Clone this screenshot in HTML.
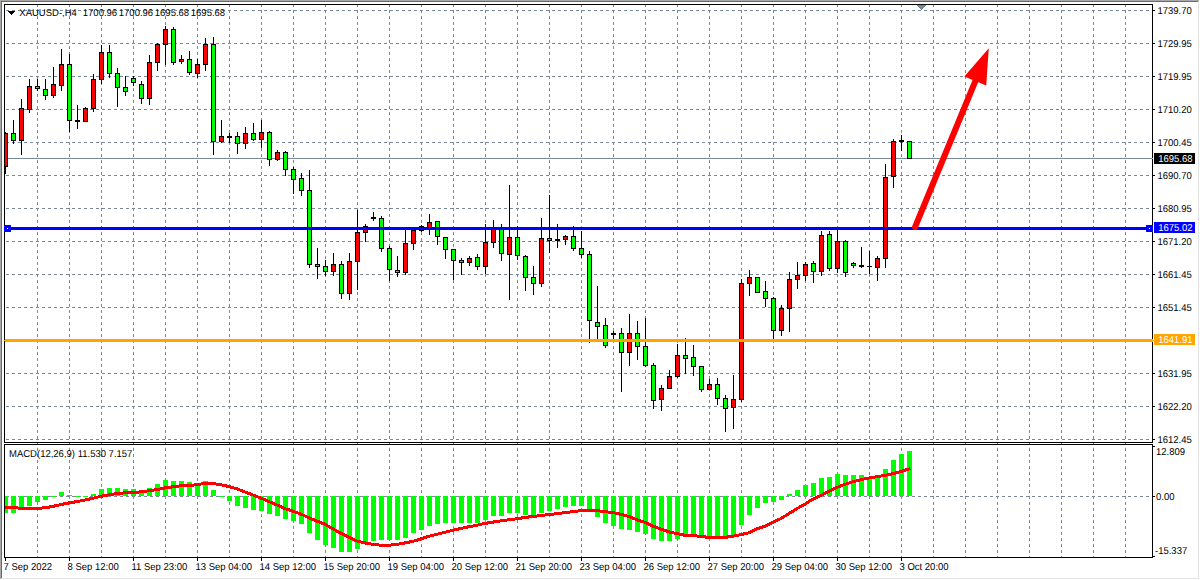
<!DOCTYPE html>
<html><head><meta charset="utf-8"><style>
html,body{margin:0;padding:0;background:#fff;width:1200px;height:580px;overflow:hidden}
svg{display:block}
text{white-space:pre;text-rendering:geometricPrecision}
</style></head><body>
<svg width="1200" height="580" viewBox="0 0 1200 580" shape-rendering="crispEdges">
<rect x="0" y="0" width="1199" height="1" fill="#a8a8a8"/>
<rect x="0" y="0" width="1" height="579" fill="#a8a8a8"/>
<rect x="1" y="1" width="1197" height="1" fill="#6b6b6b"/>
<rect x="1" y="1" width="1" height="577" fill="#6b6b6b"/>
<rect x="1198" y="1" width="1" height="578" fill="#e3e3e3"/>
<rect x="1" y="578" width="1197" height="1" fill="#e3e3e3"/>
<path d="M917 5h9v1h-9zM918 6h7v1h-7zM919 7h5v1h-5zM920 8h3v1h-3zM921 9h1v1h-1z" fill="#778899"/>
<path d="M6 10.5H1152 M6 43.5H1152 M6 76.5H1152 M6 109.5H1152 M6 142.5H1152 M6 175.5H1152 M6 208.5H1152 M6 241.5H1152 M6 274.5H1152 M6 307.5H1152 M6 340.5H1152 M6 373.5H1152 M6 406.5H1152 M6 439.5H1152 M6 496.5H1152" stroke="#778899" stroke-width="1" stroke-dasharray="3 3" fill="none"/>
<path d="M37.5 4V442 M37.5 448V557 M69.5 4V442 M69.5 448V557 M101.5 4V442 M101.5 448V557 M133.5 4V442 M133.5 448V557 M165.5 4V442 M165.5 448V557 M197.5 4V442 M197.5 448V557 M229.5 4V442 M229.5 448V557 M261.5 4V442 M261.5 448V557 M293.5 4V442 M293.5 448V557 M325.5 4V442 M325.5 448V557 M357.5 4V442 M357.5 448V557 M389.5 4V442 M389.5 448V557 M421.5 4V442 M421.5 448V557 M453.5 4V442 M453.5 448V557 M485.5 4V442 M485.5 448V557 M517.5 4V442 M517.5 448V557 M549.5 4V442 M549.5 448V557 M581.5 4V442 M581.5 448V557 M613.5 4V442 M613.5 448V557 M645.5 4V442 M645.5 448V557 M677.5 4V442 M677.5 448V557 M709.5 4V442 M709.5 448V557 M741.5 4V442 M741.5 448V557 M773.5 4V442 M773.5 448V557 M805.5 4V442 M805.5 448V557 M837.5 4V442 M837.5 448V557 M869.5 4V442 M869.5 448V557 M901.5 4V442 M901.5 448V557 M933.5 4V442 M933.5 448V557 M965.5 4V442 M965.5 448V557 M997.5 4V442 M997.5 448V557 M1029.5 4V442 M1029.5 448V557 M1061.5 4V442 M1061.5 448V557 M1093.5 4V442 M1093.5 448V557 M1125.5 4V442 M1125.5 448V557" stroke="#778899" stroke-width="1" stroke-dasharray="3 3" fill="none"/>
<path d="M37 443h1v1h-1zM69 443h1v1h-1zM101 443h1v1h-1zM133 443h1v1h-1zM165 443h1v1h-1zM197 443h1v1h-1zM229 443h1v1h-1zM261 443h1v1h-1zM293 443h1v1h-1zM325 443h1v1h-1zM357 443h1v1h-1zM389 443h1v1h-1zM421 443h1v1h-1zM453 443h1v1h-1zM485 443h1v1h-1zM517 443h1v1h-1zM549 443h1v1h-1zM581 443h1v1h-1zM613 443h1v1h-1zM645 443h1v1h-1zM677 443h1v1h-1zM709 443h1v1h-1zM741 443h1v1h-1zM773 443h1v1h-1zM805 443h1v1h-1zM837 443h1v1h-1zM869 443h1v1h-1zM901 443h1v1h-1zM933 443h1v1h-1zM965 443h1v1h-1zM997 443h1v1h-1zM1029 443h1v1h-1zM1061 443h1v1h-1zM1093 443h1v1h-1zM1125 443h1v1h-1z" fill="#778899"/>
<rect x="5" y="158" width="1147" height="1" fill="#778899"/>
<defs><clipPath id="cm"><rect x="5" y="5" width="1147" height="437"/></clipPath><clipPath id="cd"><rect x="5" y="445" width="1147" height="112"/></clipPath></defs>
<g clip-path="url(#cm)">
<path d="M5.5 132V174 M13.5 120V144 M21.5 99V155 M29.5 79V113 M37.5 79V91 M45.5 79V100 M53.5 67V98 M61.5 49V91 M69.5 54V132 M77.5 105V129 M85.5 107V122 M93.5 74V112 M101.5 45V84 M109.5 45V78 M117.5 68V107 M125.5 76V96 M133.5 76V86 M141.5 81V104 M149.5 55V105 M157.5 43V71 M165.5 26V65 M173.5 27V65 M181.5 55V64 M189.5 51V75 M197.5 59V78 M205.5 38V71 M213.5 37V155 M221.5 120V143 M229.5 133V143 M237.5 132V154 M245.5 127V149 M253.5 123V141 M261.5 120V148 M269.5 131V166 M277.5 150V161 M285.5 151V176 M293.5 167V194 M301.5 173V196 M309.5 170V268 M317.5 248V279 M325.5 260V276 M333.5 253V276 M341.5 261V299 M349.5 253V300 M357.5 210V290 M365.5 224V242 M373.5 212V221 M381.5 216V252 M389.5 246V281 M397.5 256V277 M405.5 228V275 M413.5 227V250 M421.5 225V232 M429.5 214V235 M437.5 221V245 M445.5 237V259 M453.5 249V280 M461.5 258V275 M469.5 256V266 M477.5 254V270 M485.5 224V274 M493.5 220V248 M501.5 224V261 M509.5 185V300 M517.5 226V260 M525.5 255V291 M533.5 266V295 M541.5 218V287 M549.5 195V253 M557.5 224V248 M565.5 235V245 M573.5 226V251 M581.5 231V258 M589.5 251V343 M597.5 286V340 M605.5 318V348 M613.5 331V339 M621.5 328V392 M629.5 314V366 M637.5 321V360 M645.5 318V367 M653.5 363V409 M661.5 385V411 M669.5 370V389 M677.5 344V378 M685.5 338V374 M693.5 345V376 M701.5 366V392 M709.5 379V390 M717.5 378V405 M725.5 395V432 M733.5 375V429 M741.5 279V402 M749.5 270V296 M757.5 277V293 M765.5 281V307 M773.5 297V339 M781.5 305V336 M789.5 272V332 M797.5 262V289 M805.5 262V281 M813.5 261V283 M821.5 231V276 M829.5 231V271 M837.5 230V273 M845.5 240V277 M853.5 262V268 M861.5 247V268 M869.5 251V274 M877.5 256V281 M885.5 164V268 M893.5 139V188 M901.5 135V151 M909.5 141V159" stroke="#000" stroke-width="1" fill="none"/>
<path d="M3 133h5v34h-5z M11 133h5v8h-5z M19 108h5v33h-5z M27 86h5v24h-5z M35 86h5v3h-5z M43 89h5v7h-5z M51 84h5v12h-5z M59 64h5v22h-5z M67 64h5v57h-5z M75 120h5v2h-5z M83 108h5v14h-5z M91 79h5v30h-5z M99 52h5v28h-5z M107 52h5v22h-5z M115 73h5v15h-5z M123 87h5v5h-5z M131 78h5v5h-5z M139 84h5v15h-5z M147 62h5v37h-5z M155 44h5v19h-5z M163 29h5v16h-5z M171 29h5v34h-5z M179 59h5v3h-5z M187 59h5v14h-5z M195 64h5v10h-5z M203 44h5v21h-5z M211 44h5v98h-5z M219 136h5v6h-5z M227 136h5v2h-5z M235 136h5v8h-5z M243 133h5v11h-5z M251 133h5v7h-5z M259 132h5v8h-5z M267 132h5v28h-5z M275 152h5v8h-5z M283 152h5v18h-5z M291 169h5v11h-5z M299 178h5v13h-5z M307 190h5v75h-5z M315 264h5v3h-5z M323 266h5v6h-5z M331 264h5v8h-5z M339 264h5v30h-5z M347 261h5v33h-5z M355 232h5v30h-5z M363 226h5v7h-5z M371 217h5v2h-5z M379 218h5v31h-5z M387 248h5v22h-5z M395 270h5v3h-5z M403 243h5v30h-5z M411 230h5v14h-5z M419 226h5v5h-5z M427 222h5v6h-5z M435 221h5v16h-5z M443 237h5v13h-5z M451 249h5v12h-5z M459 260h5v3h-5z M467 258h5v5h-5z M475 257h5v10h-5z M483 242h5v25h-5z M491 228h5v15h-5z M499 228h5v26h-5z M507 237h5v18h-5z M515 237h5v19h-5z M523 256h5v22h-5z M531 277h5v7h-5z M539 238h5v46h-5z M547 238h5v3h-5z M555 239h5v2h-5z M563 236h5v4h-5z M571 236h5v13h-5z M579 248h5v7h-5z M587 254h5v67h-5z M595 322h5v5h-5z M603 325h5v21h-5z M611 333h5v2h-5z M619 333h5v20h-5z M627 333h5v20h-5z M635 333h5v14h-5z M643 346h5v20h-5z M651 365h5v36h-5z M659 388h5v12h-5z M667 376h5v13h-5z M675 355h5v22h-5z M683 355h5v4h-5z M691 357h5v10h-5z M699 366h5v24h-5z M707 384h5v6h-5z M715 384h5v15h-5z M723 398h5v11h-5z M731 399h5v9h-5z M739 283h5v117h-5z M747 277h5v7h-5z M755 277h5v16h-5z M763 291h5v8h-5z M771 298h5v33h-5z M779 308h5v23h-5z M787 279h5v30h-5z M795 275h5v5h-5z M803 264h5v12h-5z M811 263h5v9h-5z M819 235h5v37h-5z M827 234h5v35h-5z M835 241h5v28h-5z M843 241h5v32h-5z M851 263h5v3h-5z M859 265h5v2h-5z M867 266h5v1h-5z M875 258h5v10h-5z M883 177h5v82h-5z M891 141h5v36h-5z M899 140h5v2h-5z M907 141h5v18h-5z" fill="#000"/>
<path d="M4 134h3v32h-3z M20 109h3v31h-3z M28 87h3v22h-3z M52 85h3v10h-3z M60 65h3v20h-3z M84 109h3v12h-3z M92 80h3v28h-3z M100 53h3v26h-3z M148 63h3v35h-3z M156 45h3v17h-3z M164 30h3v14h-3z M180 60h3v1h-3z M196 65h3v8h-3z M204 45h3v19h-3z M220 137h3v4h-3z M244 134h3v9h-3z M260 133h3v6h-3z M276 153h3v6h-3z M332 265h3v6h-3z M348 262h3v31h-3z M356 233h3v28h-3z M364 227h3v5h-3z M404 244h3v28h-3z M412 231h3v12h-3z M420 227h3v3h-3z M428 223h3v4h-3z M468 259h3v3h-3z M484 243h3v23h-3z M492 229h3v13h-3z M508 238h3v16h-3z M540 239h3v44h-3z M564 237h3v2h-3z M628 334h3v18h-3z M660 389h3v10h-3z M668 377h3v11h-3z M676 356h3v20h-3z M708 385h3v4h-3z M732 400h3v7h-3z M740 284h3v115h-3z M748 278h3v5h-3z M780 309h3v21h-3z M788 280h3v28h-3z M796 276h3v3h-3z M804 265h3v10h-3z M820 236h3v35h-3z M836 242h3v26h-3z M876 259h3v8h-3z M884 178h3v80h-3z M892 142h3v34h-3z" fill="#f00"/>
<path d="M12 134h3v6h-3z M36 87h3v1h-3z M44 90h3v5h-3z M68 65h3v55h-3z M108 53h3v20h-3z M116 74h3v13h-3z M124 88h3v3h-3z M132 79h3v3h-3z M140 85h3v13h-3z M172 30h3v32h-3z M188 60h3v12h-3z M212 45h3v96h-3z M236 137h3v6h-3z M252 134h3v5h-3z M268 133h3v26h-3z M284 153h3v16h-3z M292 170h3v9h-3z M300 179h3v11h-3z M308 191h3v73h-3z M316 265h3v1h-3z M324 267h3v4h-3z M340 265h3v28h-3z M380 219h3v29h-3z M388 249h3v20h-3z M396 271h3v1h-3z M436 222h3v14h-3z M444 238h3v11h-3z M452 250h3v10h-3z M460 261h3v1h-3z M476 258h3v8h-3z M500 229h3v24h-3z M516 238h3v17h-3z M524 257h3v20h-3z M532 278h3v5h-3z M548 239h3v1h-3z M572 237h3v11h-3z M580 249h3v5h-3z M588 255h3v65h-3z M596 323h3v3h-3z M604 326h3v19h-3z M620 334h3v18h-3z M636 334h3v12h-3z M644 347h3v18h-3z M652 366h3v34h-3z M684 356h3v2h-3z M692 358h3v8h-3z M700 367h3v22h-3z M716 385h3v13h-3z M724 399h3v9h-3z M756 278h3v14h-3z M764 292h3v6h-3z M772 299h3v31h-3z M812 264h3v7h-3z M828 235h3v33h-3z M844 242h3v30h-3z M852 264h3v1h-3z M908 142h3v16h-3z" fill="#0f0"/>
</g>
<g clip-path="url(#cd)">
<path d="M3 496h5v17h-5z M11 496h5v17h-5z M19 496h5v11h-5z M27 496h5v10h-5z M35 496h5v6h-5z M43 496h5v4h-5z M51 496h5v1h-5z M59 492h5v4h-5z M67 495h5v1h-5z M75 496h5v1h-5z M83 496h5v1h-5z M91 494h5v2h-5z M99 489h5v7h-5z M107 488h5v8h-5z M115 488h5v8h-5z M123 489h5v7h-5z M131 489h5v7h-5z M139 492h5v4h-5z M147 488h5v8h-5z M155 484h5v12h-5z M163 480h5v16h-5z M171 481h5v15h-5z M179 481h5v15h-5z M187 482h5v14h-5z M195 484h5v12h-5z M203 481h5v15h-5z M211 490h5v6h-5z M219 496h5v1h-5z M227 496h5v5h-5z M235 496h5v10h-5z M243 496h5v12h-5z M251 496h5v14h-5z M259 496h5v15h-5z M267 496h5v18h-5z M275 496h5v20h-5z M283 496h5v23h-5z M291 496h5v25h-5z M299 496h5v28h-5z M307 496h5v37h-5z M315 496h5v44h-5z M323 496h5v49h-5z M331 496h5v52h-5z M339 496h5v56h-5z M347 496h5v56h-5z M355 496h5v53h-5z M363 496h5v48h-5z M371 496h5v45h-5z M379 496h5v44h-5z M387 496h5v44h-5z M395 496h5v44h-5z M403 496h5v42h-5z M411 496h5v37h-5z M419 496h5v34h-5z M427 496h5v30h-5z M435 496h5v28h-5z M443 496h5v27h-5z M451 496h5v27h-5z M459 496h5v27h-5z M467 496h5v27h-5z M475 496h5v27h-5z M483 496h5v24h-5z M491 496h5v20h-5z M499 496h5v20h-5z M507 496h5v17h-5z M515 496h5v17h-5z M523 496h5v19h-5z M531 496h5v19h-5z M539 496h5v17h-5z M547 496h5v15h-5z M555 496h5v13h-5z M563 496h5v11h-5z M571 496h5v10h-5z M579 496h5v10h-5z M587 496h5v14h-5z M595 496h5v21h-5z M603 496h5v27h-5z M611 496h5v30h-5z M619 496h5v33h-5z M627 496h5v34h-5z M635 496h5v36h-5z M643 496h5v38h-5z M651 496h5v43h-5z M659 496h5v45h-5z M667 496h5v45h-5z M675 496h5v43h-5z M683 496h5v39h-5z M691 496h5v39h-5z M699 496h5v40h-5z M707 496h5v40h-5z M715 496h5v40h-5z M723 496h5v40h-5z M731 496h5v39h-5z M739 496h5v29h-5z M747 496h5v19h-5z M755 496h5v12h-5z M763 496h5v7h-5z M771 496h5v6h-5z M779 496h5v4h-5z M787 494h5v2h-5z M795 490h5v6h-5z M803 485h5v11h-5z M811 483h5v13h-5z M819 478h5v18h-5z M827 477h5v19h-5z M835 474h5v22h-5z M843 475h5v21h-5z M851 475h5v21h-5z M859 475h5v21h-5z M867 477h5v19h-5z M875 478h5v18h-5z M883 469h5v27h-5z M891 460h5v36h-5z M899 454h5v42h-5z M907 451h5v45h-5z" fill="#0f0"/>
<polyline points="5,507.4 13,507.4 21,508.4 29,508.4 37,508.4 45,507.8 53,506.4 61,504.5 69,502.9 77,501.6 85,500.0 93,498.2 101,496.3 109,494.8 117,493.6 125,492.8 133,492.6 141,491.8 149,490.7 157,489.6 165,487.9 173,486.8 181,485.8 189,485.7 197,484.6 205,483.5 213,483.5 221,484.7 229,486.6 237,488.9 245,492.0 253,495.0 261,498.1 269,501.6 277,505.0 285,508.6 293,511.2 301,514.1 309,517.9 317,521.1 325,524.3 333,528.8 341,533.4 349,537.4 357,541.0 365,542.9 373,544.3 381,545.2 389,545.2 397,544.3 405,542.9 413,541.3 421,538.9 429,536.2 437,534.2 445,532.3 453,530.3 461,528.4 469,526.7 477,525.2 485,523.4 493,522.1 501,520.9 509,519.7 517,518.8 525,517.4 533,516.5 541,515.5 549,514.6 557,513.6 565,512.6 573,511.6 581,510.7 589,510.7 597,510.7 605,511.6 613,512.6 621,514.3 629,516.5 637,519.8 645,522.4 653,526.1 661,529.1 669,531.9 677,533.6 685,535.3 693,535.6 701,536.5 709,537.4 717,537.4 725,537.4 733,536.2 741,534.6 749,532.7 757,528.9 765,526.1 773,522.3 781,518.5 789,513.6 797,508.6 805,504.1 813,499.1 821,495.6 829,491.1 837,487.3 845,484.3 853,481.7 861,479.7 869,478.0 877,476.7 885,475.4 893,473.7 901,471.4 909,469.0" fill="none" stroke="#f00" stroke-width="3" stroke-linejoin="round" stroke-linecap="square"/>
</g>
<rect x="5" y="227" width="1147" height="3" fill="#00f"/>
<rect x="5" y="339" width="1147" height="3" fill="#ffa500"/>
<g shape-rendering="geometricPrecision"><line x1="915.1" y1="227" x2="975.4" y2="81" stroke="#f00" stroke-width="6" stroke-linecap="round"/>
<polygon points="988.8,48.3 964.3,76.4 986.2,85.5" fill="#f00"/></g>
<rect x="4.5" y="4.5" width="1148" height="438" fill="none" stroke="#000" stroke-width="1"/>
<rect x="4.5" y="444.5" width="1148" height="113" fill="none" stroke="#000" stroke-width="1"/>
<path d="M4 225h7v7h-7zM1146 225h7v7h-7z" fill="#00f"/>
<path d="M7 228h1v1h-1zM1149 228h1v1h-1z" fill="#fff"/>
<path d="M1153 10.5h2 M1153 43.5h2 M1153 76.5h2 M1153 109.5h2 M1153 142.5h2 M1153 175.5h2 M1153 208.5h2 M1153 241.5h2 M1153 274.5h2 M1153 307.5h2 M1153 373.5h2 M1153 406.5h2 M1153 439.5h2 M1153 446.5h2 M1153 496.5h2 M1153 556.5h2 M5.5 558v3 M69.5 558v3 M133.5 558v3 M197.5 558v3 M261.5 558v3 M325.5 558v3 M389.5 558v3 M453.5 558v3 M517.5 558v3 M581.5 558v3 M645.5 558v3 M709.5 558v3 M773.5 558v3 M837.5 558v3 M901.5 558v3" stroke="#000" stroke-width="1" fill="none"/>
<rect x="1152" y="158" width="1" height="1" fill="#b8c2cc"/>
<path d="M1152 339h1v3h-1zM1153 340h1v1h-1zM4 340h1v1h-1z" fill="#ffa500"/>
<rect x="1154" y="153" width="41" height="11" fill="#000"/>
<rect x="1154" y="222" width="41" height="11" fill="#00f"/>
<rect x="1154" y="334" width="41" height="11" fill="#ffa500"/>
<path d="M8 11h7v1h-7zM9 12h5v1h-5zM10 13h3v1h-3zM11 14h1v1h-1z" fill="#000"/>
<g style="font-family:'Liberation Sans',sans-serif;font-size:10px" fill="#000" transform="scale(0.95,1)"><text x="1218.42" y="14">1739.70</text><text x="1218.42" y="47">1729.95</text><text x="1218.42" y="80">1719.95</text><text x="1218.42" y="113">1710.20</text><text x="1218.42" y="146">1700.45</text><text x="1218.42" y="179">1690.70</text><text x="1218.42" y="212">1680.95</text><text x="1218.42" y="245">1671.20</text><text x="1218.42" y="278">1661.45</text><text x="1218.42" y="311">1651.45</text><text x="1218.42" y="377">1631.95</text><text x="1218.42" y="410">1622.20</text><text x="1218.42" y="443">1612.45</text><text x="1216.84" y="455">12.809</text><text x="1216.84" y="500">0.00</text><text x="1215.79" y="554">-15.337</text><text x="3.68" y="570">7 Sep 2022</text><text x="71.05" y="570">8 Sep 12:00</text><text x="138.42" y="570">11 Sep 23:00</text><text x="205.79" y="570">13 Sep 04:00</text><text x="273.16" y="570">14 Sep 12:00</text><text x="340.53" y="570">15 Sep 20:00</text><text x="407.89" y="570">19 Sep 04:00</text><text x="475.26" y="570">20 Sep 12:00</text><text x="542.63" y="570">21 Sep 20:00</text><text x="610.00" y="570">23 Sep 04:00</text><text x="677.37" y="570">26 Sep 12:00</text><text x="744.74" y="570">27 Sep 20:00</text><text x="812.11" y="570">29 Sep 04:00</text><text x="879.47" y="570">30 Sep 12:00</text><text x="946.84" y="570">3 Oct 20:00</text><text x="1219.16" y="162" fill="#fff">1695.68</text><text x="1219.16" y="231" fill="#fff">1675.02</text><text x="1219.16" y="343" fill="#fff">1641.91</text><text x="20.32" y="16">XAUUSD-,H4</text><text x="87.16" y="16">1700.96</text><text x="125.05" y="16">1700.96</text><text x="162.95" y="16">1695.68</text><text x="200.84" y="16">1695.68</text><text x="9.47" y="457">MACD(12,26,9) 11.530 7.157</text></g>
</svg>
</body></html>
